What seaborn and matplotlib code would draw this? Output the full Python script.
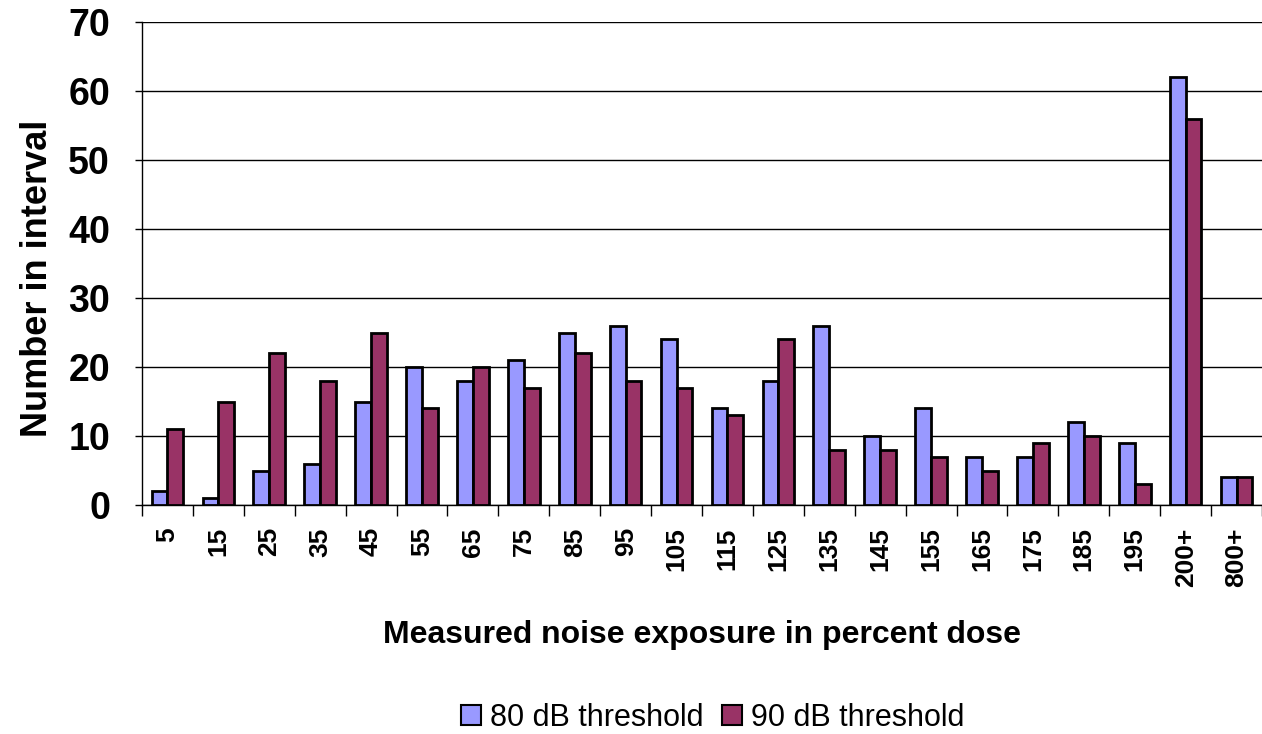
import numpy as np
import pandas as pd
import matplotlib
matplotlib.use("Agg")
import matplotlib.pyplot as plt
import seaborn as sns

# dose intervals (percent) and counts per interval
dose_labels = ["5", "15", "25", "35", "45", "55", "65", "75", "85", "95", "105",
               "115", "125", "135", "145", "155", "165", "175", "185", "195",
               "200+", "800+"]
counts_80db = [2, 1, 5, 6, 15, 20, 18, 21, 25, 26, 24, 14, 18, 26, 10, 14, 7, 7, 12, 9, 62, 4]
counts_90db = [11, 15, 22, 18, 25, 14, 20, 17, 22, 18, 17, 13, 24, 8, 8, 7, 5, 9, 10, 3, 56, 4]
series_names = ["80 dB threshold", "90 dB threshold"]
colors = ["#9999FF", "#993366"]

df = pd.DataFrame({
    "dose": dose_labels * 2,
    "count": counts_80db + counts_90db,
    "threshold": [series_names[0]] * len(dose_labels) + [series_names[1]] * len(dose_labels),
})

sns.set_style("white")
plt.rcParams["font.family"] = ["Liberation Sans", "DejaVu Sans"]
plt.rcParams["text.color"] = "black"
plt.rcParams["xtick.color"] = "black"
plt.rcParams["ytick.color"] = "black"
plt.rcParams["axes.labelcolor"] = "black"

fig = plt.figure(figsize=(12.62, 7.34), dpi=100)
ax = fig.add_axes([142 / 1262, 1 - 505 / 734, 1 - 142 / 1262, (505 - 22) / 734])

sns.barplot(data=df, x="dose", y="count", hue="threshold", order=dose_labels,
            palette=colors, saturation=1, edgecolor="black", linewidth=2, width=0.62,
            ax=ax, legend=False, zorder=3)

# axes and grid
ax.set_ylim(0, 70)
ax.set_xlim(-0.5, 21.2)
ax.set_yticks(range(0, 71, 10))
ax.yaxis.grid(True, color="black", linewidth=1.0, zorder=0)
ax.xaxis.grid(False)
for side in ["top", "right"]:
    ax.spines[side].set_visible(False)
ax.spines["left"].set_color("black")
ax.spines["bottom"].set_color("black")
ax.spines["left"].set_linewidth(1.0)
ax.spines["bottom"].set_linewidth(1.0)

ax.set_xticks(range(len(dose_labels)))
ax.set_xticklabels(dose_labels, rotation=90, fontsize=19, fontweight="bold")
ax.set_xticks(np.arange(-0.5, len(dose_labels)), minor=True)
ax.tick_params(axis="x", which="major", length=0, pad=16)
ax.tick_params(axis="x", which="minor", length=8, width=1, color="black", direction="out", bottom=True)
ax.tick_params(axis="y", length=5, width=1, color="black", direction="out", left=True, pad=18)
for lbl in ax.get_yticklabels():
    lbl.set_fontsize(27)
    lbl.set_fontweight("bold")

ax.set_xlabel("Measured noise exposure in percent dose", fontsize=23, fontweight="bold", labelpad=24)
ax.set_ylabel("Number in interval", fontsize=26, fontweight="bold")
ax.yaxis.set_label_coords(-0.078, 0.47)

# legend at the bottom
handles = [plt.Rectangle((0, 0), 1, 1, facecolor=c, edgecolor="black", linewidth=1.5) for c in colors]
fig.legend(handles, series_names, loc="center", bbox_to_anchor=(0.565, 1 - 718 / 734),
           ncol=2, frameon=False, fontsize=22, handlelength=0.65, handleheight=0.65,
           handletextpad=0.3, columnspacing=0.6)

fig.savefig("out.png", dpi=100)
